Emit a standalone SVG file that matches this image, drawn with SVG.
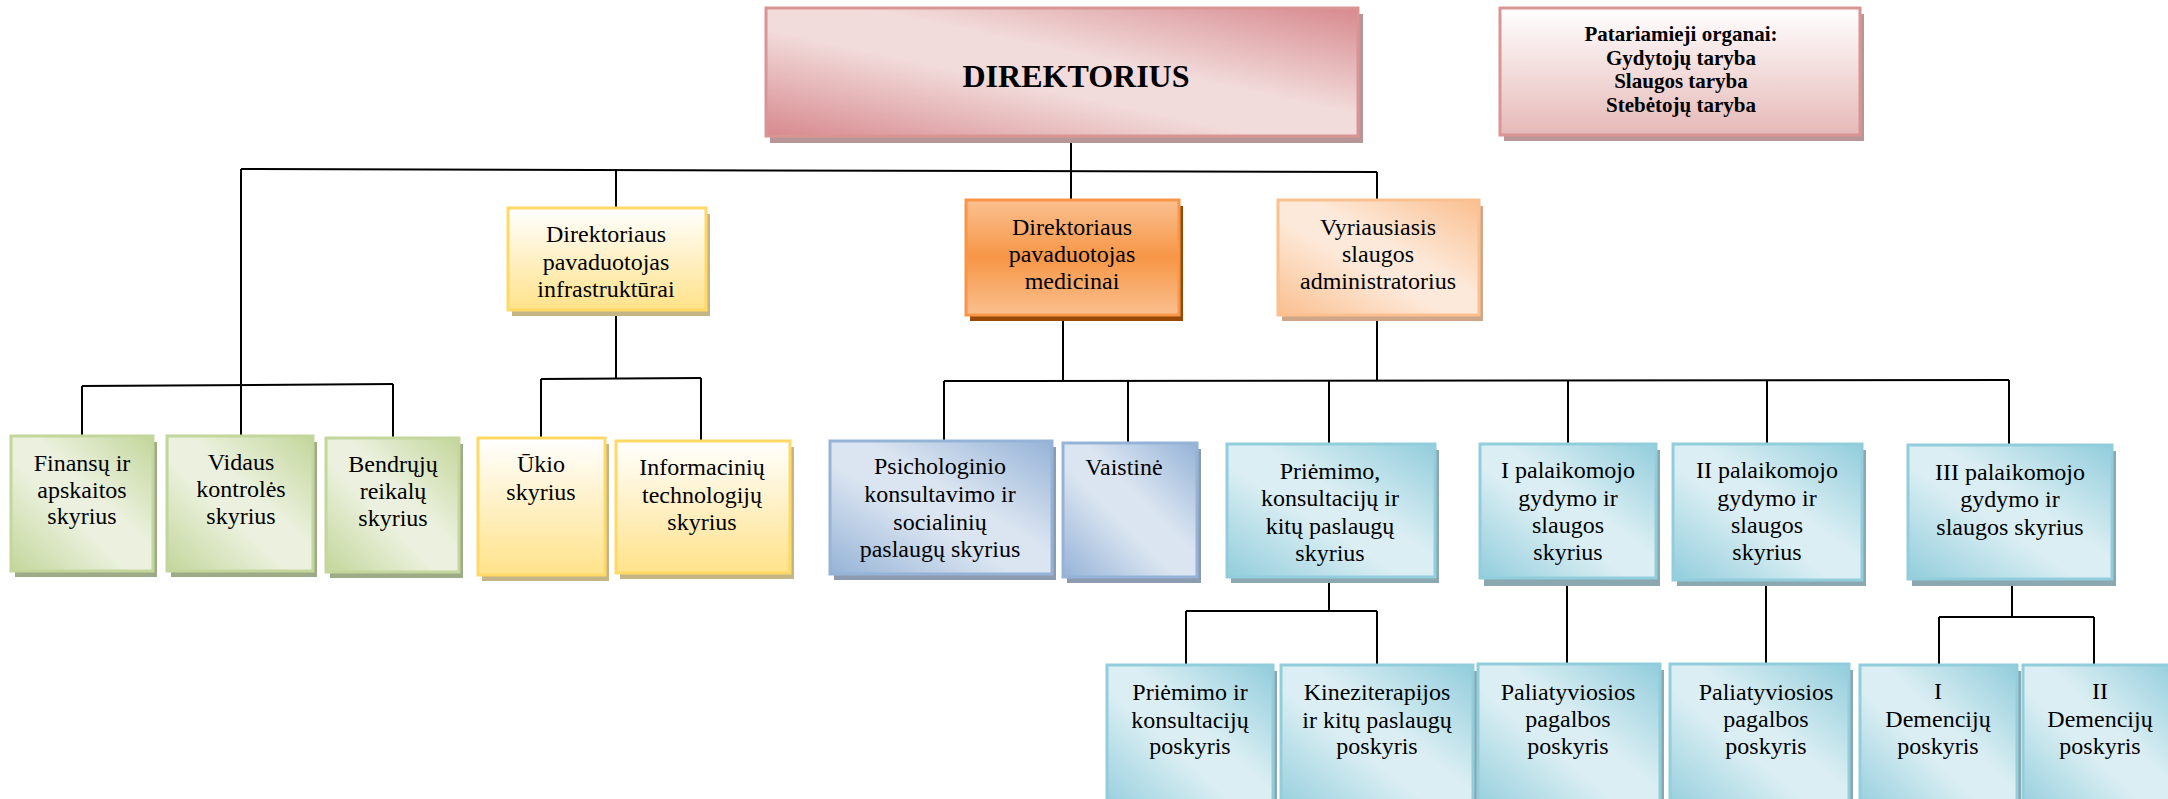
<svg xmlns="http://www.w3.org/2000/svg" width="2168" height="799" viewBox="0 0 2168 799">
<style>
.t{font-family:"Liberation Serif","Times New Roman",serif;font-size:24px;text-anchor:middle;fill:#000}
.tb{font-family:"Liberation Serif","Times New Roman",serif;font-weight:bold;text-anchor:middle;fill:#000}
.conn path{stroke:#000;stroke-width:2;fill:none}
.sh-pink{fill:#b89697}.sh-org{fill:#984807}.sh-pch{fill:#cfa688}.sh-yel{fill:#c4b587}
.sh-grn{fill:#9dab86}.sh-blu{fill:#8d9bb0}.sh-tea{fill:#8ba7af}
.b-pink{fill:url(#gPink);stroke:#d99594;stroke-width:3}
.b-pat{fill:url(#gPat);stroke:#d99594;stroke-width:3}
.b-org{fill:url(#gOrg);stroke:#f79646;stroke-width:3}
.b-pch{fill:url(#gPch);stroke:#fac090;stroke-width:3}
.b-yel{fill:url(#gYel);stroke:#ffd966;stroke-width:3}
.b-grn{fill:url(#gGrn);stroke:#c3d69b;stroke-width:3}
.b-blu{fill:url(#gBlu);stroke:#95b3d7;stroke-width:3}
.b-tea{fill:url(#gTea);stroke:#92cddc;stroke-width:3}
</style>
<defs>
<linearGradient id="gPink" x1="1" y1="0" x2="0" y2="1"><stop offset="0" stop-color="#d7898e"/><stop offset="0.42" stop-color="#f2dcdb"/><stop offset="0.58" stop-color="#f2dcdb"/><stop offset="1" stop-color="#d7898e"/></linearGradient>
<linearGradient id="gPat" x1="0" y1="0" x2="0" y2="1"><stop offset="0" stop-color="#ffffff"/><stop offset="1" stop-color="#e6b9b8"/></linearGradient>
<linearGradient id="gOrg" x1="0" y1="0" x2="0" y2="1"><stop offset="0" stop-color="#fac090"/><stop offset="0.5" stop-color="#f79646"/><stop offset="1" stop-color="#fac090"/></linearGradient>
<linearGradient id="gPch" x1="1" y1="0" x2="0" y2="1"><stop offset="0" stop-color="#fabf8f"/><stop offset="0.42" stop-color="#fde9d9"/><stop offset="0.58" stop-color="#fde9d9"/><stop offset="1" stop-color="#fabf8f"/></linearGradient>
<linearGradient id="gYel" x1="0" y1="0" x2="0" y2="1"><stop offset="0" stop-color="#ffffff"/><stop offset="1" stop-color="#ffe28a"/></linearGradient>
<linearGradient id="gGrn" x1="1" y1="0" x2="0" y2="1"><stop offset="0" stop-color="#c3d69b"/><stop offset="0.42" stop-color="#ebf1de"/><stop offset="0.58" stop-color="#ebf1de"/><stop offset="1" stop-color="#c3d69b"/></linearGradient>
<linearGradient id="gBlu" x1="1" y1="0" x2="0" y2="1"><stop offset="0" stop-color="#95b3d7"/><stop offset="0.42" stop-color="#dbe5f1"/><stop offset="0.58" stop-color="#dbe5f1"/><stop offset="1" stop-color="#95b3d7"/></linearGradient>
<linearGradient id="gTea" x1="1" y1="0" x2="0" y2="1"><stop offset="0" stop-color="#92cddc"/><stop offset="0.42" stop-color="#daeef3"/><stop offset="0.58" stop-color="#daeef3"/><stop offset="1" stop-color="#92cddc"/></linearGradient>
</defs>
<rect width="2168" height="799" fill="#ffffff"/>

<g class="conn" id="connectors">
<path d="M1071,143 V200"/>
<path d="M241,169 L1377,172"/>
<path d="M241,169 V436"/>
<path d="M616,170 V208"/>
<path d="M1377,172 V200"/>
<path d="M82,386 L393,384"/>
<path d="M82,386 V436"/>
<path d="M393,384 V438"/>
<path d="M616,315 V379"/>
<path d="M541,379 L701,378"/>
<path d="M541,379 V438"/>
<path d="M701,378 V441"/>
<path d="M1063,321 V381"/>
<path d="M1377,321 V381"/>
<path d="M944,381 L2009,380"/>
<path d="M944,381 V441"/>
<path d="M1128,381 V443"/>
<path d="M1329,381 V444"/>
<path d="M1568,380 V444"/>
<path d="M1767,380 V444"/>
<path d="M2009,380 V445"/>
<path d="M1329,583 V611"/>
<path d="M1186,611 H1377"/>
<path d="M1186,611 V665"/>
<path d="M1377,611 V665"/>
<path d="M1567,586 V664"/>
<path d="M1766,586 V664"/>
<path d="M2012,586 V617"/>
<path d="M1939,617 H2094"/>
<path d="M1939,617 V665"/>
<path d="M2094,617 V665"/>
</g>

<g id="direktorius">
<rect class="sh-pink" x="770" y="14" width="593" height="129"/>
<rect class="b-pink" x="766" y="8" width="592" height="128"/>
<text class="tb" x="1076" y="87" font-size="32">DIREKTORIUS</text>
</g>

<g id="patariamieji">
<rect class="sh-pink" x="1504" y="14" width="360" height="127"/>
<rect class="b-pat" x="1500" y="8" width="360" height="127"/>
<text class="tb" font-size="21" x="1681"><tspan x="1681" y="41">Patariamieji organai:</tspan><tspan x="1681" y="65">Gydytojų taryba</tspan><tspan x="1681" y="88">Slaugos taryba</tspan><tspan x="1681" y="112">Stebėtojų taryba</tspan></text>
</g>

<g id="infra">
<rect class="sh-yel" x="512" y="214" width="198" height="102"/>
<rect class="b-yel" x="508" y="208" width="198" height="102"/>
<text class="t"><tspan x="606" y="242">Direktoriaus</tspan><tspan x="606" y="270">pavaduotojas</tspan><tspan x="606" y="297">infrastruktūrai</tspan></text>
</g>

<g id="medicinai">
<rect class="sh-org" x="970" y="206" width="213" height="115"/>
<rect class="b-org" x="966" y="200" width="213" height="115"/>
<text class="t"><tspan x="1072" y="235">Direktoriaus</tspan><tspan x="1072" y="262">pavaduotojas</tspan><tspan x="1072" y="289">medicinai</tspan></text>
</g>

<g id="slaugos-admin">
<rect class="sh-pch" x="1282" y="206" width="201" height="115"/>
<rect class="b-pch" x="1278" y="200" width="201" height="115"/>
<text class="t"><tspan x="1378" y="235">Vyriausiasis</tspan><tspan x="1378" y="262">slaugos</tspan><tspan x="1378" y="289">administratorius</tspan></text>
</g>

<g id="finansu">
<rect class="sh-grn" x="15" y="442" width="142" height="135"/>
<rect class="b-grn" x="11" y="436" width="142" height="135"/>
<text class="t"><tspan x="82" y="471">Finansų ir</tspan><tspan x="82" y="498">apskaitos</tspan><tspan x="82" y="524">skyrius</tspan></text>
</g>

<g id="vidaus">
<rect class="sh-grn" x="171" y="442" width="146" height="135"/>
<rect class="b-grn" x="167" y="436" width="146" height="135"/>
<text class="t"><tspan x="241" y="470">Vidaus</tspan><tspan x="241" y="497">kontrolės</tspan><tspan x="241" y="524">skyrius</tspan></text>
</g>

<g id="bendruju">
<rect class="sh-grn" x="330" y="444" width="133" height="134"/>
<rect class="b-grn" x="326" y="438" width="133" height="134"/>
<text class="t"><tspan x="393" y="472">Bendrųjų</tspan><tspan x="393" y="499">reikalų</tspan><tspan x="393" y="526">skyrius</tspan></text>
</g>

<g id="ukio">
<rect class="sh-yel" x="482" y="444" width="127" height="137"/>
<rect class="b-yel" x="478" y="438" width="127" height="137"/>
<text class="t"><tspan x="541" y="472">Ūkio</tspan><tspan x="541" y="500">skyrius</tspan></text>
</g>

<g id="informaciniu">
<rect class="sh-yel" x="620" y="447" width="174" height="132"/>
<rect class="b-yel" x="616" y="441" width="174" height="132"/>
<text class="t"><tspan x="702" y="475">Informacinių</tspan><tspan x="702" y="503">technologijų</tspan><tspan x="702" y="530">skyrius</tspan></text>
</g>

<g id="psichologinio">
<rect class="sh-blu" x="834" y="447" width="222" height="133"/>
<rect class="b-blu" x="830" y="441" width="222" height="133"/>
<text class="t"><tspan x="940" y="474">Psichologinio</tspan><tspan x="940" y="502">konsultavimo ir</tspan><tspan x="940" y="530">socialinių</tspan><tspan x="940" y="557">paslaugų skyrius</tspan></text>
</g>

<g id="vaistine">
<rect class="sh-blu" x="1067" y="449" width="134" height="134"/>
<rect class="b-blu" x="1063" y="443" width="134" height="134"/>
<text class="t" x="1124" y="475">Vaistinė</text>
</g>

<g id="priemimo">
<rect class="sh-tea" x="1231" y="450" width="208" height="133"/>
<rect class="b-tea" x="1227" y="444" width="208" height="133"/>
<text class="t"><tspan x="1330" y="479">Priėmimo,</tspan><tspan x="1330" y="506">konsultacijų ir</tspan><tspan x="1330" y="534">kitų paslaugų</tspan><tspan x="1330" y="561">skyrius</tspan></text>
</g>

<g id="palaikomojo-1">
<rect class="sh-tea" x="1484" y="450" width="176" height="136"/>
<rect class="b-tea" x="1480" y="444" width="176" height="134"/>
<text class="t"><tspan x="1568" y="478">I palaikomojo</tspan><tspan x="1568" y="506">gydymo ir</tspan><tspan x="1568" y="533">slaugos</tspan><tspan x="1568" y="560">skyrius</tspan></text>
</g>

<g id="palaikomojo-2">
<rect class="sh-tea" x="1677" y="450" width="189" height="136"/>
<rect class="b-tea" x="1673" y="444" width="189" height="136"/>
<text class="t"><tspan x="1767" y="478">II palaikomojo</tspan><tspan x="1767" y="506">gydymo ir</tspan><tspan x="1767" y="533">slaugos</tspan><tspan x="1767" y="560">skyrius</tspan></text>
</g>

<g id="palaikomojo-3">
<rect class="sh-tea" x="1912" y="451" width="204" height="135"/>
<rect class="b-tea" x="1908" y="445" width="204" height="134"/>
<text class="t"><tspan x="2010" y="480">III palaikomojo</tspan><tspan x="2010" y="507">gydymo ir</tspan><tspan x="2010" y="535">slaugos skyrius</tspan></text>
</g>

<g id="priemimo-poskyris">
<rect class="sh-tea" x="1111" y="671" width="166" height="150"/>
<rect class="b-tea" x="1107" y="665" width="166" height="150"/>
<text class="t"><tspan x="1190" y="700">Priėmimo ir</tspan><tspan x="1190" y="728">konsultacijų</tspan><tspan x="1190" y="754">poskyris</tspan></text>
</g>

<g id="kineziterapijos">
<rect class="sh-tea" x="1285" y="671" width="192" height="150"/>
<rect class="b-tea" x="1281" y="665" width="192" height="150"/>
<text class="t"><tspan x="1377" y="700">Kineziterapijos</tspan><tspan x="1377" y="728">ir kitų paslaugų</tspan><tspan x="1377" y="754">poskyris</tspan></text>
</g>

<g id="paliatyviosios-1">
<rect class="sh-tea" x="1482" y="670" width="182" height="150"/>
<rect class="b-tea" x="1478" y="664" width="182" height="150"/>
<text class="t"><tspan x="1568" y="700">Paliatyviosios</tspan><tspan x="1568" y="727">pagalbos</tspan><tspan x="1568" y="754">poskyris</tspan></text>
</g>

<g id="paliatyviosios-2">
<rect class="sh-tea" x="1674" y="670" width="179" height="150"/>
<rect class="b-tea" x="1670" y="664" width="179" height="150"/>
<text class="t"><tspan x="1766" y="700">Paliatyviosios</tspan><tspan x="1766" y="727">pagalbos</tspan><tspan x="1766" y="754">poskyris</tspan></text>
</g>

<g id="demenciju-1">
<rect class="sh-tea" x="1864" y="671" width="157" height="150"/>
<rect class="b-tea" x="1860" y="665" width="157" height="150"/>
<text class="t"><tspan x="1938" y="699">I</tspan><tspan x="1938" y="727">Demencijų</tspan><tspan x="1938" y="754">poskyris</tspan></text>
</g>

<g id="demenciju-2">
<rect class="sh-tea" x="2027" y="671" width="157" height="150"/>
<rect class="b-tea" x="2023" y="665" width="157" height="150"/>
<text class="t"><tspan x="2100" y="699">II</tspan><tspan x="2100" y="727">Demencijų</tspan><tspan x="2100" y="754">poskyris</tspan></text>
</g>
</svg>
